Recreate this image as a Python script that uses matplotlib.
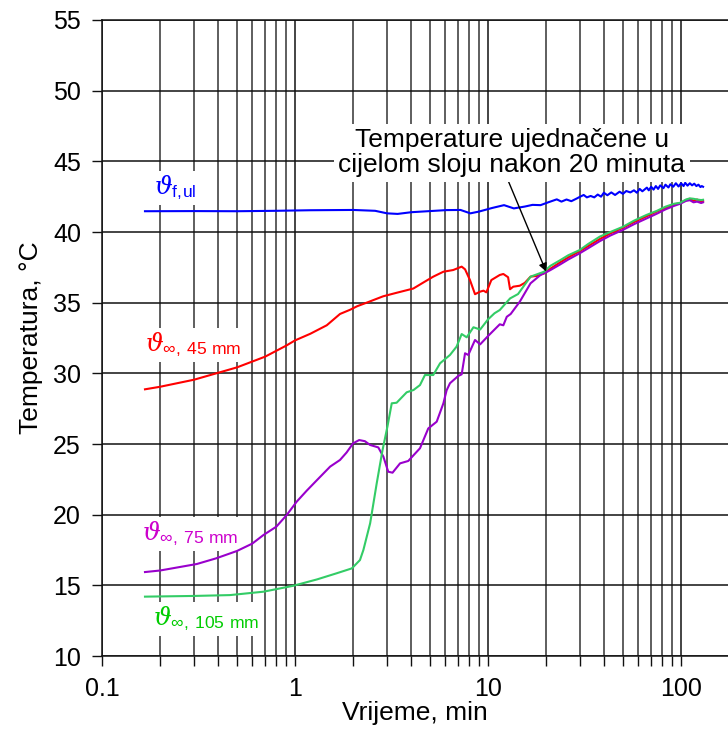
import matplotlib
matplotlib.use("Agg")
import matplotlib.pyplot as plt
from matplotlib.ticker import LogLocator, NullFormatter

plt.rcParams['font.family'] = ['Liberation Sans', 'DejaVu Sans']
plt.rcParams['mathtext.fontset'] = 'custom'
plt.rcParams['mathtext.rm'] = 'Liberation Sans'
plt.rcParams['mathtext.it'] = 'DejaVu Serif:italic'

# time in minutes, temperature in deg C
t_ful = [0.167, 0.3, 0.5, 0.8, 1.2, 2.0, 2.6, 3.0, 3.4, 4.0, 5.0, 6.1, 7.2, 8.1, 9.0,
         10.5, 12.1, 13.6, 15.5, 17.0, 18.7, 20.5, 22.7, 24.0, 25.5, 27.0, 28.9, 30.0,
         31.3, 32.5, 34.0, 35.5, 37.0, 38.5, 39.8, 41.5, 43.5, 45.5, 48, 50, 52, 54.6,
         57, 59, 61, 63, 66.5, 68, 70, 72, 74, 76, 78, 81, 83, 86, 88, 91, 94, 97, 100,
         103, 105, 108, 111, 114, 117, 120, 123, 126, 128, 130]
T_ful = [41.47, 41.48, 41.47, 41.50, 41.54, 41.56, 41.50, 41.32, 41.28, 41.40, 41.48,
         41.55, 41.56, 41.32, 41.45, 41.70, 41.90, 41.67, 41.80, 41.92, 41.90, 42.10,
         42.31, 42.15, 42.30, 42.18, 42.38, 42.50, 42.62, 42.45, 42.55, 42.45, 42.65,
         42.50, 42.78, 42.60, 42.80, 42.62, 42.85, 42.70, 42.90, 42.80, 42.95, 42.78,
         43.05, 42.88, 43.14, 42.95, 43.20, 43.00, 43.25, 43.05, 43.30, 43.10, 43.35,
         43.15, 43.38, 43.20, 43.45, 43.22, 43.45, 43.25, 43.48, 43.28, 43.45, 43.30,
         43.42, 43.25, 43.35, 43.18, 43.25, 43.20]

t_45 = [0.167, 0.2, 0.3, 0.4, 0.5, 0.7, 0.9, 1.0, 1.2, 1.46, 1.71, 1.93, 2.1, 2.35,
        2.86, 3.36, 4.1, 4.6, 5.2, 5.87, 6.6, 7.3, 7.6, 8.06, 8.56, 9.1, 9.47, 9.8,
        10.4, 11.5, 12.0, 12.7, 13.0, 13.5, 14.6, 15.5, 16.6, 18.0, 19.5, 21, 23.6, 26,
        29.9, 33, 37.9, 43, 50, 57, 66, 75, 83, 92, 99, 106, 111, 116, 121, 127, 130]
T_45 = [28.87, 29.05, 29.55, 30.04, 30.42, 31.18, 31.96, 32.33, 32.80, 33.40, 34.20,
        34.50, 34.75, 35.00, 35.45, 35.70, 36.00, 36.41, 36.84, 37.19, 37.31, 37.55,
        37.36, 36.60, 35.60, 35.78, 35.85, 35.73, 36.60, 36.96, 37.03, 36.80, 35.95,
        36.13, 36.20, 36.40, 36.84, 36.90, 37.07, 37.40, 37.85, 38.20, 38.65, 39.00,
        39.50, 39.90, 40.30, 40.70, 41.10, 41.45, 41.70, 41.95, 42.05, 42.25, 42.35,
        42.20, 42.30, 42.15, 42.20]

t_75 = [0.167, 0.2, 0.31, 0.39, 0.5, 0.6, 0.686, 0.80, 0.905, 1.02, 1.15, 1.30, 1.52,
        1.71, 1.85, 2.0, 2.15, 2.3, 2.45, 2.7, 2.87, 3.04, 3.2, 3.5, 3.86, 4.44, 4.9,
        5.42, 5.87, 6.1, 6.35, 7.0, 7.3, 7.6, 7.9, 8.56, 9.1, 10.0, 11.5, 12.0, 12.5,
        13.1, 14.6, 16.6, 18.7, 20, 21, 23.6, 26, 29.9, 33, 37.9, 43, 50, 57, 66, 75,
        83, 92, 99, 106, 111, 116, 121, 127, 130]
T_75 = [15.94, 16.05, 16.51, 16.91, 17.43, 17.95, 18.56, 19.15, 19.97, 20.92, 21.70,
        22.45, 23.40, 23.87, 24.40, 25.05, 25.28, 25.20, 24.93, 24.76, 24.10, 23.04,
        22.97, 23.63, 23.80, 24.70, 26.10, 26.58, 27.88, 28.80, 29.30, 29.81, 29.93,
        31.42, 31.30, 32.36, 32.05, 32.64, 33.47, 33.40, 34.00, 34.20, 35.07, 36.37,
        36.96, 37.15, 37.30, 37.70, 38.05, 38.50, 38.85, 39.35, 39.75, 40.15, 40.55,
        40.95, 41.30, 41.60, 41.85, 42.00, 42.20, 42.25, 42.10, 42.15, 42.05, 42.10]

t_105 = [0.167, 0.3, 0.46, 0.686, 0.98, 1.30, 1.64, 1.97, 2.17, 2.26, 2.45, 2.65, 2.84,
         3.01, 3.17, 3.36, 3.79, 4.11, 4.44, 4.71, 5.2, 5.64, 6.35, 6.87, 7.3, 7.75, 8.4,
         9.1, 10.0, 10.8, 11.5, 13.0, 14.3, 16.6, 19.5, 21, 23.6, 26, 29.9, 33, 37.9, 43,
         50, 57, 66, 75, 83, 92, 99, 106, 111, 116, 121, 127, 130]
T_105 = [14.20, 14.25, 14.31, 14.55, 14.97, 15.42, 15.85, 16.20, 16.79, 17.50, 19.39,
         22.22, 24.57, 26.22, 27.88, 27.92, 28.66, 28.82, 29.17, 29.88, 29.88, 30.71,
         31.30, 31.89, 32.78, 32.55, 33.26, 33.10, 33.82, 34.25, 34.48, 35.30, 35.61,
         36.84, 37.19, 37.60, 38.00, 38.35, 38.73, 39.15, 39.67, 40.00, 40.37, 40.80,
         41.20, 41.50, 41.79, 42.00, 42.07, 42.30, 42.38, 42.35, 42.30, 42.26, 42.28]

y_ticks = [10, 15, 20, 25, 30, 35, 40, 45, 50, 55]
x_ticks = [0.1, 1, 10, 100]
x_labels = ['0.1', '1', '10', '100']

fig = plt.figure(figsize=(7.28, 7.38), dpi=100)
ax = fig.add_axes([0.1401, 0.1111, 0.8599, 0.8618])

ax.plot(t_ful, T_ful, color='#0000FF', lw=1.5, zorder=5)
ax.plot(t_45, T_45, color='#FF0000', lw=1.5, zorder=5)
ax.plot(t_75, T_75, color='#9900CC', lw=1.5, zorder=5)
ax.plot(t_105, T_105, color='#33CC66', lw=1.5, zorder=5)

ax.set_xscale('log')
ax.set_xlim(0.1, 175)
ax.set_ylim(10, 55)
ax.set_xticks(x_ticks)
ax.set_xticklabels(x_labels)
ax.xaxis.set_minor_locator(LogLocator(base=10, subs=range(2, 10)))
ax.xaxis.set_minor_formatter(NullFormatter())
ax.set_yticks(y_ticks)

ax.grid(True, which='major', color='#111111', lw=1.1)
ax.grid(True, which='minor', axis='x', color='#333333', lw=1.1)
ax.set_axisbelow(True)

ax.tick_params(axis='both', which='both', direction='out', length=7.2, width=1,
               labelsize=18, color='#111111')
ax.tick_params(axis='x', which='major', pad=8)
ax.tick_params(axis='y', pad=8)
for s in ['left', 'bottom', 'top']:
    ax.spines[s].set_color('#111111')
    ax.spines[s].set_linewidth(1.1)
ax.spines['right'].set_visible(False)

ax.set_xlabel('Vrijeme, min', fontsize=19, labelpad=0)
ax.set_ylabel('Temperatura, °C', fontsize=19, labelpad=7)

box = dict(fc='white', ec='none', pad=2)
ax.text(0.239, 43.1, r'$\vartheta_{\mathrm{f,\!ul}}$', color='#0000FF', fontsize=18,
        ha='center', va='center', bbox=box, zorder=4)
ax.text(0.296, 32.0, r'$\vartheta_{\infty,\!\ \mathrm{45\ mm}}$', color='#FF0000',
        fontsize=18, ha='center', va='center', bbox=box, zorder=4)
ax.text(0.286, 18.63, r'$\vartheta_{\infty,\!\ \mathrm{75\ mm}}$', color='#CC00CC',
        fontsize=18, ha='center', va='center', bbox=box, zorder=4)
ax.text(0.346, 12.62, r'$\vartheta_{\infty,\!\ \mathrm{105\ mm}}$', color='#00CC00',
        fontsize=18, ha='center', va='center', bbox=box, zorder=4)

ax.annotate('Temperature ujednačene u\ncijelom sloju nakon 20 minuta',
            xy=(20, 37.2), xytext=(13.3, 45.6), fontsize=19, linespacing=1.05,
            ha='center', va='center', multialignment='center',
            bbox=dict(fc='white', ec='none', pad=3), zorder=6,
            arrowprops=dict(arrowstyle='-|>', color='black', lw=1,
                            mutation_scale=12, shrinkA=0, shrinkB=0,
                            relpos=(0.485, 0)))

fig.savefig('out.png', dpi=100)
